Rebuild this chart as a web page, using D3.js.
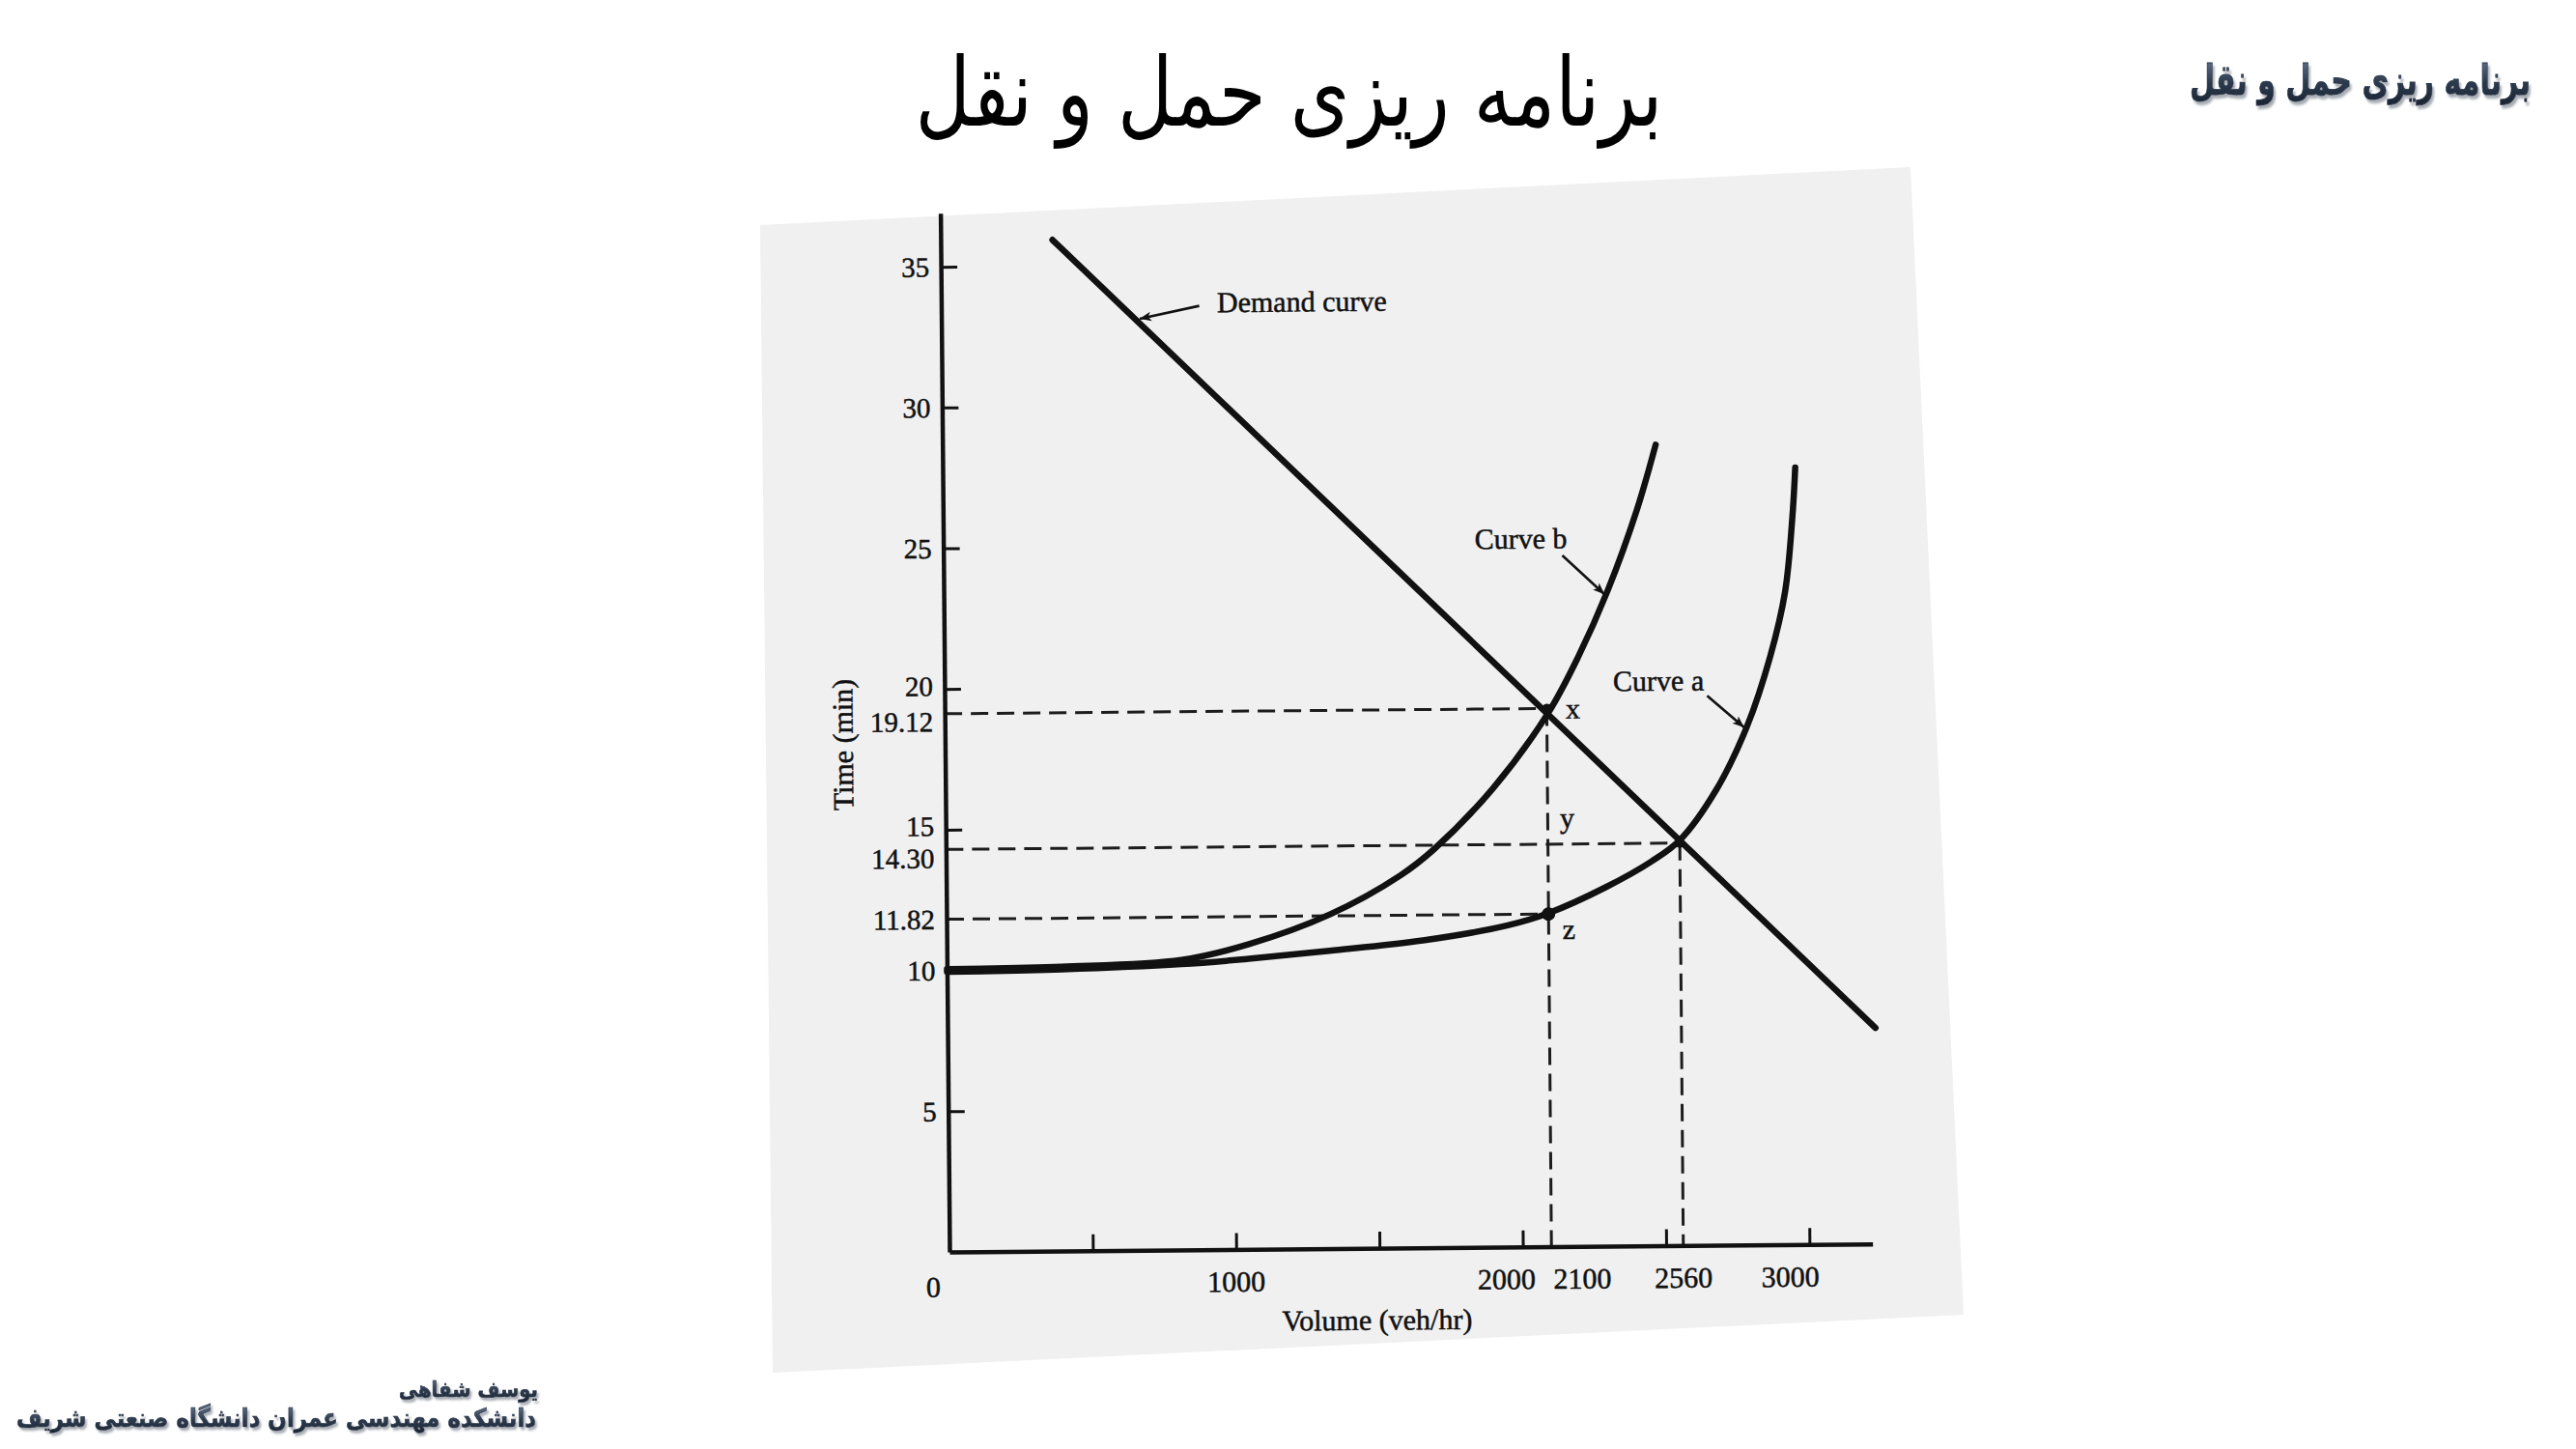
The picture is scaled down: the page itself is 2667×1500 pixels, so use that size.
<!DOCTYPE html>
<html><head><meta charset="utf-8">
<script src="https://cdn.jsdelivr.net/npm/d3@7"></script>
<style>body{margin:0;background:#fff}</style>
</head><body>
<svg id="c" width="2667" height="1500"></svg>
<script>
// ---------------- data ----------------
const titleText = "برنامه ریزی حمل و نقل";
const headerText = "برنامه ریزی حمل و نقل";
const authorText = "یوسف شفاهی";
const affiliationText = "دانشکده مهندسی عمران  دانشگاه صنعتی شریف";

const xAxisTitle = "Volume (veh/hr)";
const yAxisTitle = "Time (min)";

const volTicks = [500, 1000, 1500, 2000, 2500, 3000];
const volLabels = [1000, 2000, 2100, 2560, 3000];
const timeTicks = [5, 10, 15, 20, 25, 30, 35];
const timeLabels = ["5", "10", "11.82", "14.30", "15", "19.12", "20", "25", "30", "35"];

const demandVol = [390, 3237];
const demandTime = [35.92, 7.67];

const curveAVol  = [0, 400, 818, 1053, 1335, 1661, 1954, 2100, 2300, 2460, 2560, 2690, 2797, 2881, 2935, 2963, 2974];
const curveATime = [9.95, 10.0, 10.15, 10.32, 10.58, 10.92, 11.42, 11.85, 12.75, 13.65, 14.40, 16.2, 18.4, 20.9, 23.2, 25.9, 27.6];

const curveBVol  = [0, 400, 818, 1054, 1337, 1585, 1702, 1910, 2104, 2211, 2316, 2421, 2488];
const curveBTime = [10.05, 10.1, 10.3, 10.84, 11.87, 13.24, 14.15, 16.3, 18.95, 20.94, 23.29, 26.17, 28.46];

const pointNames = ["x", "z", ""];
const pointVol   = [2100, 2100, 2560];
const pointTime  = [19.12, 11.82, 14.30];

// ---------------- drawing ----------------
const W = 2667, H = 1500;
const svg = d3.select("#c");
svg.append("rect").attr("width", W).attr("height", H).attr("fill", "#fff");

const defs = svg.append("defs");
const grad = defs.append("linearGradient").attr("id", "ink").attr("x1", 0).attr("y1", 0).attr("x2", 0).attr("y2", 1);
grad.append("stop").attr("offset", "0%").attr("stop-color", "#6a7a92");
grad.append("stop").attr("offset", "55%").attr("stop-color", "#2c3a4e");
grad.append("stop").attr("offset", "100%").attr("stop-color", "#1a2433");
const flt = defs.append("filter").attr("id", "shadow").attr("x", "-5%").attr("y", "-30%").attr("width", "115%").attr("height", "170%");
flt.append("feDropShadow").attr("dx", 2).attr("dy", 2.5).attr("stdDeviation", 0.8)
  .attr("flood-color", "#9ea3ab").attr("flood-opacity", 0.9);
defs.append("marker").attr("id", "arr").attr("viewBox", "0 0 10 10")
  .attr("refX", 10).attr("refY", 5).attr("markerUnits", "userSpaceOnUse")
  .attr("markerWidth", 22).attr("markerHeight", 12).attr("orient", "auto")
  .append("path").attr("d", "M0,1L10,5L0,9L2.5,5Z").attr("fill", "#111");

function fit(t, target) {
  const w = t.node().getComputedTextLength();
  t.attr("font-size", (+t.attr("font-size")) * target / w);
}

// slide title
const titleG = svg.append("g").attr("transform", "translate(1334.5,130) scale(1,1.25)");
const title = titleG.append("text").attr("x", 0).attr("y", 0)
  .attr("text-anchor", "middle").attr("font-family", "'DejaVu Sans'")
  .attr("font-size", 80).attr("fill", "#000").text(titleText);
fit(title, 774);

function shadowText(cx, by, s, width, size, sy) {
  const gg = svg.append("g").attr("transform", `translate(${cx},${by}) scale(1,${sy})`);
  const t = gg.append("text").attr("x", 0).attr("y", 0).attr("text-anchor", "middle")
    .attr("font-family", "'DejaVu Sans'").attr("font-weight", "bold").attr("font-size", size)
    .attr("fill", "url(#ink)").attr("stroke", "#2a3648").attr("stroke-width", 0.6)
    .attr("filter", "url(#shadow)").text(s);
  fit(t, width);
}
shadowText(2443.5, 98, headerText, 353, 30, 1.45);
shadowText(485, 1446, authorText, 144, 26, 1.15);
shadowText(286, 1477, affiliationText, 538, 26, 1.15);

// scanned page background
svg.append("polygon").attr("points", "787,233 1978,173 2033,1361 800,1421").attr("fill", "#f0f0f0");

// chart
const ox = 983, oy = 1296, pxPerVeh = 0.2968, pxPerMin = 29.14;
const x = d3.scaleLinear().domain([0, 3220]).range([ox, ox + 3220 * pxPerVeh]);
const y = d3.scaleLinear().domain([0, 36.9]).range([oy, oy - 36.9 * pxPerMin]);
const g = svg.append("g").attr("transform", `rotate(-0.5,${ox},${oy})`);
const ink = "#111";
const serif = "'Liberation Serif', 'Times New Roman', serif";
const fs = 30;

// dashed guides
const guides = g.append("g").attr("stroke", "#1c1c1c").attr("stroke-width", 3).attr("stroke-dasharray", "18,9").attr("fill", "none");
pointVol.forEach((v, i) => {
  guides.append("line").attr("x1", x(0)).attr("x2", x(v)).attr("y1", y(pointTime[i])).attr("y2", y(pointTime[i]));
});
[0, 2].forEach(i => {
  guides.append("line").attr("x1", x(pointVol[i])).attr("x2", x(pointVol[i])).attr("y1", y(pointTime[i])).attr("y2", y(0));
});

// axes
g.append("g").attr("transform", `translate(0,${oy})`)
  .call(d3.axisBottom(x).tickValues(volTicks).tickSize(-17).tickSizeOuter(0).tickFormat(""))
  .call(s => { s.select(".domain").attr("stroke", ink).attr("stroke-width", 4.5);
               s.selectAll(".tick line").attr("stroke", ink).attr("stroke-width", 3); });
g.append("g").attr("transform", `translate(${ox},0)`)
  .call(d3.axisLeft(y).tickValues(timeTicks).tickSize(-17).tickSizeOuter(0).tickFormat(""))
  .call(s => { s.select(".domain").attr("stroke", ink).attr("stroke-width", 4.5);
               s.selectAll(".tick line").attr("stroke", ink).attr("stroke-width", 3); });

// text style helper
const txt = (sel, size) => sel.attr("font-family", serif).attr("font-size", size || fs).attr("fill", ink)
  .attr("stroke", ink).attr("stroke-width", 0.5);

// tick labels
const xNudge = {2000: -17, 2100: 32, 3000: -20};
g.selectAll(".xl").data(volLabels).join("text")
  .attr("x", d => x(d) + (xNudge[d] || 0)).attr("y", oy + 33).attr("dy", "0.35em")
  .attr("text-anchor", "middle").call(txt).text(d => d);
g.append("text").attr("x", x(0) - 17).attr("y", oy + 36).attr("dy", "0.35em").attr("text-anchor", "middle")
  .call(txt).text("0");
const yNudge = {"19.12": 8, "20": -3, "14.30": 9, "15": -4};
g.selectAll(".yl").data(timeLabels).join("text")
  .attr("x", ox - 12).attr("y", d => y(+d) + (yNudge[d] || 0))
  .attr("dy", "0.35em").attr("text-anchor", "end").call(txt, 29).text(d => d);

// axis titles
g.append("text").attr("x", x(1490)).attr("y", oy + 74).attr("dy", "0.35em").attr("text-anchor", "middle")
  .call(txt).text(xAxisTitle);
g.append("text").attr("transform", `translate(${ox - 106},${y(18.05)}) rotate(-90)`).attr("dy", "0.35em")
  .attr("text-anchor", "middle").call(txt).text(yAxisTitle);

// curves
const line = d3.line().x(d => x(d[0])).y(d => y(d[1])).curve(d3.curveCatmullRom.alpha(0.5));
const curves = [
  d3.zip(curveAVol, curveATime),
  d3.zip(curveBVol, curveBTime)
];
g.selectAll(".cv").data(curves).join("path").attr("d", line)
  .attr("fill", "none").attr("stroke", ink).attr("stroke-width", 6.5).attr("stroke-linecap", "round");
g.append("path").attr("d", d3.line().x(d => x(d[0])).y(d => y(d[1]))(d3.zip(demandVol, demandTime)))
  .attr("fill", "none").attr("stroke", ink).attr("stroke-width", 6.5).attr("stroke-linecap", "round");

// points
g.selectAll(".pt").data(pointVol).join("circle")
  .attr("cx", (d) => x(d)).attr("cy", (d, i) => y(pointTime[i])).attr("r", (d, i) => i === 1 ? 7 : 5).attr("fill", ink);

// point letters
const lab = (v, t, dx, s) => g.append("text").attr("x", x(v) + dx).attr("y", y(t)).attr("dy", "0.35em")
  .attr("text-anchor", "middle").call(txt).text(s);
lab(pointVol[0], pointTime[0], 27, pointNames[0]);
lab(2100, 15.24, 20, "y");
lab(pointVol[1], 11.29, 21, pointNames[1]);

// annotations with arrows
function note(s, tv, tt, av, at, bv, bt) {
  g.append("text").attr("x", x(tv)).attr("y", y(tt)).attr("dy", "0.35em").call(txt).text(s);
  g.append("line").attr("x1", x(av)).attr("y1", y(at)).attr("x2", x(bv)).attr("y2", y(bt))
    .attr("stroke", ink).attr("stroke-width", 2.6).attr("marker-end", "url(#arr)");
}
note("Demand curve", 962, 33.66, 900, 33.53, 692, 33.09);
note("Curve b", 1853, 25.17, 2159, 24.55, 2305, 23.16);
note("Curve a", 2332, 20.08, 2660, 19.52, 2788, 18.39);
</script>
</body></html>
